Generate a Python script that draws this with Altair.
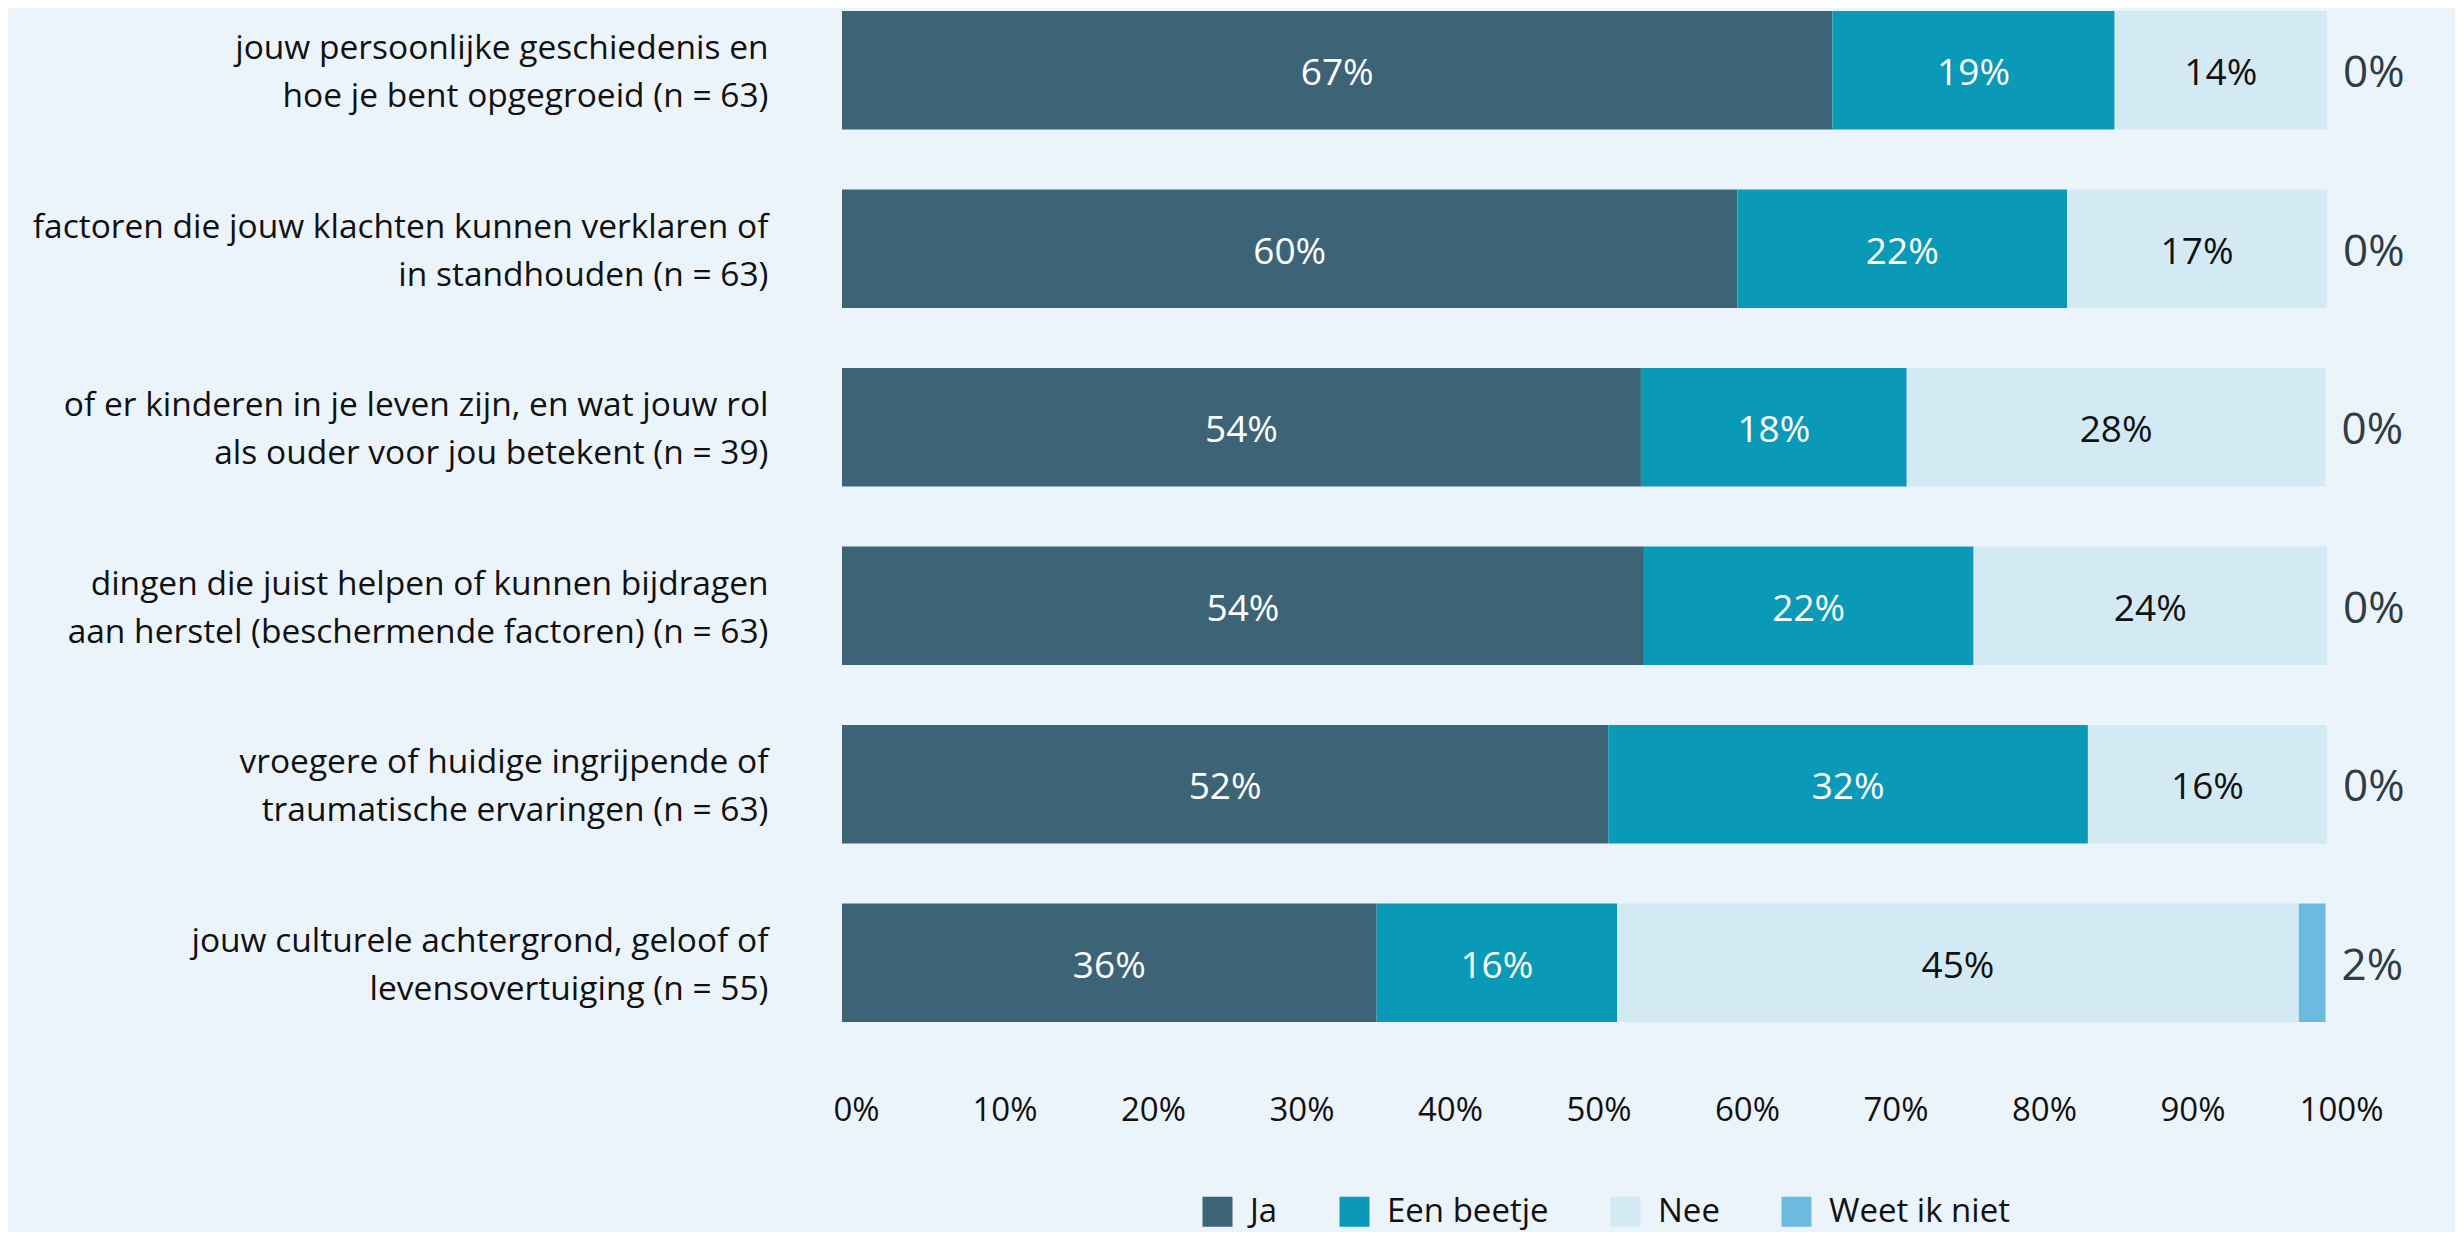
import altair as alt
import pandas as pd

items = [
    "jouw persoonlijke geschiedenis en|hoe je bent opgegroeid (n = 63)",
    "factoren die jouw klachten kunnen verklaren of|in standhouden (n = 63)",
    "of er kinderen in je leven zijn, en wat jouw rol|als ouder voor jou betekent (n = 39)",
    "dingen die juist helpen of kunnen bijdragen|aan herstel (beschermende factoren) (n = 63)",
    "vroegere of huidige ingrijpende of|traumatische ervaringen (n = 63)",
    "jouw culturele achtergrond, geloof of|levensovertuiging (n = 55)",
]
cats = ["Ja", "Een beetje", "Nee", "Weet ik niet"]
colors = ["#3d6476", "#0a9ab7", "#d3e9f4", "#6dbae0"]

# bar lengths (percent)
ja = [66.7, 60.3, 53.8, 54.0, 51.6, 36.0]
een_beetje = [19.0, 22.2, 17.9, 22.2, 32.3, 16.2]
nee = [14.3, 17.5, 28.2, 23.8, 16.1, 45.9]
weet_ik_niet = [0.0, 0.0, 0.0, 0.0, 0.0, 1.8]
series = [ja, een_beetje, nee, weet_ik_niet]

# printed percentage labels
ja_lbl = ["67%", "60%", "54%", "54%", "52%", "36%"]
een_beetje_lbl = ["19%", "22%", "18%", "22%", "32%", "16%"]
nee_lbl = ["14%", "17%", "28%", "24%", "16%", "45%"]
weet_ik_niet_lbl = ["0%", "0%", "0%", "0%", "0%", "2%"]
labels = [ja_lbl, een_beetje_lbl, nee_lbl, weet_ik_niet_lbl]

rows = []
for i, item in enumerate(items):
    for j, cat in enumerate(cats):
        rows.append({"item": item, "cat": cat, "order": j,
                     "value": series[j][i], "lbl": labels[j][i]})
df = pd.DataFrame(rows)

FONT = "Open Sans"

base = alt.Chart(df).transform_stack(
    stack="value",
    groupby=["item"],
    sort=[alt.SortField("order", "ascending")],
    as_=["x0", "x1"],
)

yenc = alt.Y(
    "item:N",
    sort=items,
    scale=alt.Scale(paddingInner=0.3365, paddingOuter=0),
    axis=alt.Axis(
        title=None,
        labelExpr="split(datum.label, '|')",
        labelFontSize=33.5,
        labelLineHeight=48,
        labelPadding=74,
        labelOffset=-21,
        labelColor="#111111",
        labelLimit=1000,
        domain=False,
        ticks=False,
        labelFont=FONT,
    ),
)

bars = base.mark_bar().encode(
    y=yenc,
    x=alt.X(
        "x0:Q",
        scale=alt.Scale(domain=[0, 100]),
        axis=alt.Axis(
            title=None,
            values=list(range(0, 101, 10)),
            labelExpr="datum.value + '%'",
            grid=False,
            domain=False,
            ticks=False,
            labelFlush=False,
            labelFontSize=33,
            labelPadding=72,
            labelOffset=14,
            labelColor="#111111",
            labelFont=FONT,
        ),
    ),
    x2="x1:Q",
    color=alt.Color(
        "cat:N",
        scale=alt.Scale(domain=cats, range=colors),
        legend=alt.Legend(
            title=None,
            orient="none",
            legendX=359,
            legendY=1184,
            direction="horizontal",
            symbolType="square",
            symbolSize=900,
            symbolStrokeWidth=0,
            labelFontSize=33,
            labelOffset=16,
            labelLimit=500,
            columnPadding=60,
            labelColor="#111111",
            labelFont=FONT,
        ),
    ),
)

inside = base.transform_filter("datum.cat != 'Weet ik niet'").transform_calculate(
    mid="(datum.x0 + datum.x1) / 2",
).mark_text(fontSize=37, font=FONT, dy=4).encode(
    x="mid:Q",
    y=alt.Y("item:N", sort=items),
    text="lbl:N",
    color=alt.condition("datum.cat == 'Nee'", alt.value("#111111"), alt.value("#ffffff")),
)

outside = base.transform_filter("datum.cat == 'Weet ik niet'").mark_text(
    fontSize=44, font=FONT, align="left", dx=16, dy=4, color="#2e3d43"
).encode(
    x="x1:Q",
    y=alt.Y("item:N", sort=items),
    text="lbl:N",
)

chart = alt.layer(bars, inside, outside).properties(
    width=1485,
    height=1011,
    autosize=alt.AutoSizeParams(type="none"),
    padding={"left": 834, "top": 3, "right": 128, "bottom": 210},
    background="#ecf4fb",
).configure_view(stroke=None)

chart.save("out.html", embed_options={"renderer": "svg", "actions": False})
